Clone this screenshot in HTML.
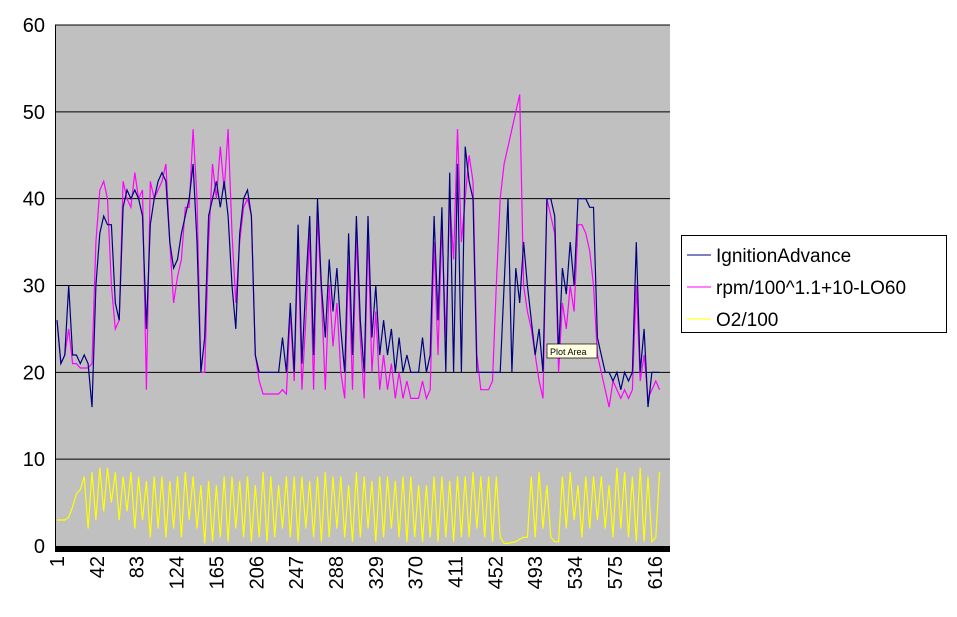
<!DOCTYPE html>
<html><head><meta charset="utf-8"><style>
body{margin:0;background:#fff;width:957px;height:612px;overflow:hidden;font-family:"Liberation Sans",Arial,sans-serif}
</style></head><body>
<svg id="chart" width="957" height="612" xmlns="http://www.w3.org/2000/svg" font-family="Liberation Sans, Arial, sans-serif">
<rect x="55" y="25" width="615" height="521" fill="#c0c0c0"/>
<g id="grid"></g><g id="series"></g><g id="axes"></g>
<g>
<rect x="547" y="344" width="50" height="14" fill="#ffffe1" stroke="#000" stroke-width="0.7"/>
<text x="550" y="355" font-size="9">Plot Area</text></g>
<g>
<rect x="681.5" y="235.5" width="265" height="97" fill="#fff" stroke="#000"/>
<g><line x1="687" y1="255" x2="711" y2="255" stroke="#000080"/><text x="716" y="262" font-size="19">IgnitionAdvance</text></g>
<g><line x1="687" y1="287" x2="711" y2="287" stroke="#ff00ff"/><text x="716" y="294" font-size="19">rpm/100^1.1+10-LO60</text></g>
<g><line x1="687" y1="319" x2="711" y2="319" stroke="#ffff00"/><text x="716" y="326" font-size="19">O2/100</text></g>
</g>
</svg>
<script>
const yTicks=[0,10,20,30,40,50,60];
const xTickLabels=[1,42,83,124,165,206,247,288,329,370,411,452,493,534,575,616];
const step=4;
const ignition=[26,21,22,30,22,22,21,22,21,16, 30,36,38,37, 37,28,26, 39,41,40,41,40,38, 25, 37,40,42,43,42, 35,32,33,36, 38,40,44,35,20, 24,38,40,42, 39,42,38,30,25, 36,40,41,38,22,20, 20,20,20,20,20,24,20, 28,20,37,21,30,38,22,40,30,24, 33,27,32,25, 20,36,22,38,26,20, 38,24,30,22,26,22,25,20,24,20,22,20,20,20,24,20,22, 38,26,39,20,43,20, 44,20,46,42,40,20, 20,20,20,20,20,20,30,40, 20,32,28,35,30,26,22,25,20, 40,40,38, 22,32,29,35,30,40, 40,40,39,39, 24,22,20,20,19, 20,18,20,19,20,35, 20,25,16,20,20,20];
const rpm=[26,21,22,25,21,21,20.5,20.5,20.5,21, 35,41,42,40, 30,25,26, 42,40,39,43,40,41, 18, 42,40,41,42,44, 35,28,31,33, 39,39,48,40,20, 20,35,44,40, 46,41,48,36,28, 35,39,40,38,22,19, 17.5,17.5,17.5,17.5,17.5,18,17.5, 27,19,35,18,26,36,18,38,29,18, 30,23,28,20, 17,33,18,36,24,17, 36,20,27,18,22,18,21,17,20,17,19,17,17,17,19,17,18, 35,22,37,24,40,33, 48,35,40,45,42,22, 18,18,18,19,30,40,44,46, 48,50,52,30,27,25,22,19,17, 40,38,36, 20,28,25,30,27,37, 37,36,34,30, 22,20,18,16,19, 18,17,18,17,18,30, 19,22,17,18,19,18];
const o2=[3,3,3,3.3,4.5,6,6.5, 8,2,8.5,3,9,4,9,5,8.5,3,8,4,8.5,2,8,3,7.5,1,8,2,8,1,7.5,2,8,1,8.5,3,8,2, 7,0.3,7.5,0.5,7,1,8,0.5,8,2,7.5,1,8,0.5,7,1,8.5,0.5,8,1,7,2,8,1,8,0.5, 8,2,7.5,1,8,0.5,8.5,1,8,2,8,1,7,0.5,8.5,1,8,2,7.5,0.5,8,1,8,2,7.5,1,8,0.5,8,1, 7,0.5,7,1,8,0.5,8,1,7.5,0.5,8,1, 8,1,8.5,2,8,1,8,0.5,8,1, 0.3,0.3,0.4,0.5,0.8,1,1, 8,1,8.5,2,7,1, 0.5,0.5, 8,2,8.5,3,7,1,8,2,8,3,8,2,7,1,9,2,8.5,1,8,0.5,9,0.5,8,0.5,1,8.5];
const NS="http://www.w3.org/2000/svg";
const X0=57,PX=0.972,Y0=546,YS=521/60;
function xs(i){return X0+(i-1)*PX;}
function ys(v){return Y0-v*YS;}
function mk(t,a,p){const e=document.createElementNS(NS,t);for(const k in a)e.setAttribute(k,a[k]);p.appendChild(e);return e;}
const grid=document.getElementById('grid'),axes=document.getElementById('axes'),ser=document.getElementById('series');
yTicks.forEach(v=>{
  if(v>0){const g=mk('line',{x1:55,x2:670,y1:ys(v),y2:ys(v),stroke:'#000'},grid);
  
  }
  const t=mk('text',{x:45,y:ys(v)+7,'text-anchor':'end','font-size':20},axes);
  t.textContent=v;
  
  
});
const ax=mk('line',{x1:55.5,x2:55.5,y1:25,y2:550,stroke:'#000'},axes);


const band=mk('rect',{x:55,y:546,width:615,height:6,fill:'#000'},axes);


xTickLabels.forEach(c=>{
  const x=xs(c)+7;
  const t=mk('text',{x:x,y:556,'text-anchor':'end','font-size':20,transform:`rotate(-90 ${x} 556)`},axes);
  t.textContent=c;
  
  
});
function draw(arr,color,name){
  const pts=arr.map((v,k)=>xs(1+k*step).toFixed(1)+','+ys(v).toFixed(1)).join(' ');
  const p=mk('polyline',{points:pts,fill:'none',stroke:color,'stroke-width':1.2},ser);
  
  
}
draw(o2,'#ffff00','o2-line');
draw(rpm,'#ff00ff','rpm-line');
draw(ignition,'#000080','ignition-advance-line');
</script>
</body></html>
